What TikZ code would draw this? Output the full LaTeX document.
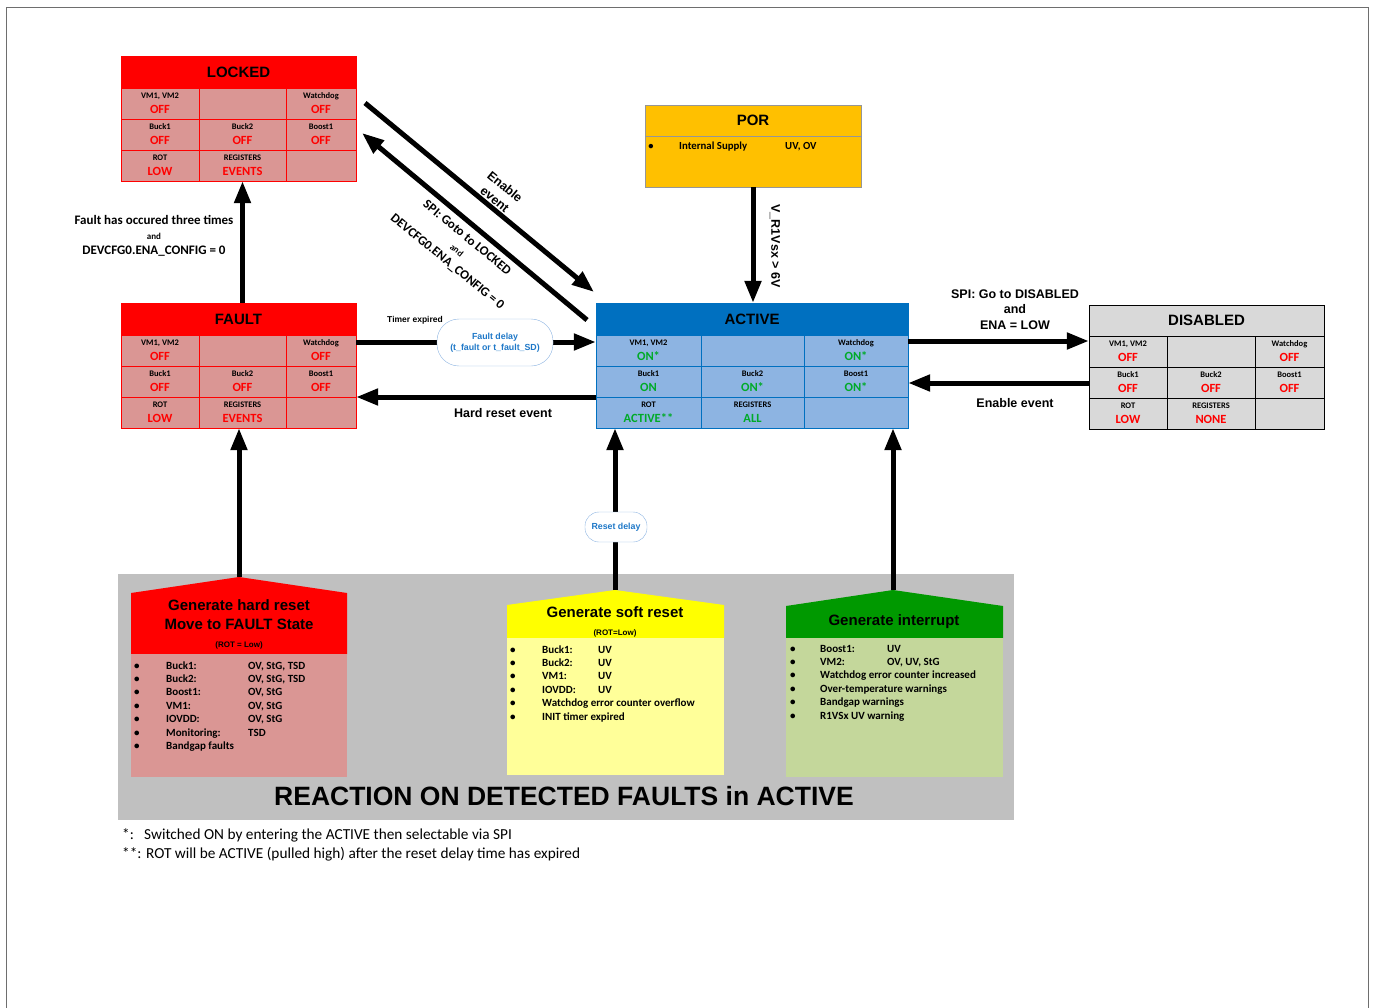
\documentclass[tikz,border=0pt]{standalone}
\usepackage{fontspec}
\setmainfont{Carlito}
\newfontfamily\arialfont{Liberation Sans}
\usetikzlibrary{arrows.meta}

\definecolor{lockred}{RGB}{255,0,0}
\definecolor{lockpink}{RGB}{218,150,148}
\definecolor{actblue}{RGB}{0,112,192}
\definecolor{actcell}{RGB}{141,180,226}
\definecolor{actgreen}{RGB}{0,170,40}
\definecolor{disgrey}{RGB}{217,217,217}
\definecolor{porgold}{RGB}{255,192,0}
\definecolor{porline}{RGB}{150,150,150}
\definecolor{softyellow}{RGB}{255,255,0}
\definecolor{softbody}{RGB}{255,255,153}
\definecolor{intgreen}{RGB}{0,153,0}
\definecolor{intbody}{RGB}{196,215,155}
\definecolor{bggrey}{RGB}{192,192,192}
\definecolor{delayblue}{RGB}{30,120,200}
\definecolor{delayline}{RGB}{141,180,226}
\definecolor{pageframe}{RGB}{110,110,110}

\newcommand{\celllbl}[1]{{\color{black}\fontsize{8.5}{10}\selectfont #1}}
\newcommand{\titlefont}{\arialfont\bfseries\fontsize{15}{19}\selectfont}

\begin{document}
\begin{tikzpicture}[x=1pt,y=-1pt]
   \tikzset{cell/.style 2 args={draw=#1, fill=#2, inner sep=0pt, minimum height=31pt, align=center, font=\fontsize{12.5}{15}\selectfont\bfseries},
      lcell/.style={cell={lockred}{lockpink}, text=lockred, minimum width=#1},
      acell/.style={cell={actblue}{actcell}, text=actgreen, minimum width=#1},
      dcell/.style={cell={black}{disgrey}, text=lockred, minimum width=#1},
      titlebar/.style 2 args={draw=#1, fill=#2, inner sep=0pt, minimum height=32pt, font=\titlefont, align=center},
      bigline/.style={line width=5pt},
      bigarrow/.style={bigline, -{Triangle[length=22pt,width=16pt]}},
      delaybox/.style={draw=delayline, fill=white, inner sep=0pt, text=delayblue, align=center, font=\arialfont\bfseries\fontsize{8.8}{11}\selectfont},
      arialbold/.style={inner sep=0pt, align=center, font=\arialfont\bfseries\fontsize{12.5}{15.5}\selectfont},
      calbold/.style={inner sep=0pt, align=center, font=\bfseries\fontsize{13}{15}\selectfont},
      smalltext/.style={inner sep=0pt, align=center, font=\arialfont\bfseries\fontsize{8}{10}\selectfont},
      listtext/.style={anchor=north west, inner sep=0pt, font=\bfseries\fontsize{11}{13.4}\selectfont},
      foottext/.style={anchor=base west, inner sep=0pt, font=\fontsize{15.3}{18}\selectfont}};

\useasboundingbox (0,0) rectangle (1373,1008);
\draw[pageframe, line width=1pt] (6,1008) -- (6,8) -- (1368,8) -- (1368,1008);

% fault reactions
\fill[bggrey] (118,574) rectangle (1014,820);
\fill[lockred] (131,654) -- (131,593) -- (239,577) -- (347,593) -- (347,654) -- cycle;
\fill[lockpink] (131,654) rectangle (347,777);
\fill[softyellow] (507,638) -- (507,605) -- (615,590) -- (724,605) -- (724,638) -- cycle;
\fill[softbody] (507,638) rectangle (724,775);
\fill[intgreen] (786,638) -- (786,606) -- (893,590) -- (1003,606) -- (1003,638) -- cycle;
\fill[intbody] (786,638) rectangle (1003,777);
\coordinate (hardtop) at (239,577);
\coordinate (softtop) at (615,590);
\coordinate (inttop) at (893,590);

\node[titlebar={none}{none}] (hardtitle) at (239,614.5) {Generate hard reset\\Move to FAULT State};
\node[smalltext] (hardrot) at (239,645) {(ROT = Low)};
\node[listtext] (hardlist) at (134,659.5) {\begin{tabular}{@{}p{32pt}@{}p{82pt}@{}l@{}}
\textbullet & Buck1: & OV, StG, TSD\\
\textbullet & Buck2: & OV, StG, TSD\\
\textbullet & Boost1: & OV, StG\\
\textbullet & VM1: & OV, StG\\
\textbullet & IOVDD: & OV, StG\\
\textbullet & Monitoring: & TSD\\
\textbullet & \multicolumn{2}{@{}l@{}}{Bandgap faults}\\
\end{tabular}};

\node[titlebar={none}{none}] (softtitle) at (615,612) {Generate soft reset};
\node[smalltext] (softrot) at (615,633) {(ROT=Low)};
\node[listtext] (softlist) at (510,643.5) {\begin{tabular}{@{}p{32pt}@{}p{56pt}@{}l@{}}
\textbullet & Buck1: & UV\\
\textbullet & Buck2: & UV\\
\textbullet & VM1: & UV\\
\textbullet & IOVDD: & UV\\
\textbullet & \multicolumn{2}{@{}l@{}}{Watchdog error counter overflow}\\
\textbullet & \multicolumn{2}{@{}l@{}}{INIT timer expired}\\
\end{tabular}};

\node[titlebar={none}{none}] (inttitle) at (894,622) {Generate interrupt};
\node[listtext] (intlist) at (790,642.5) {\begin{tabular}{@{}p{30pt}@{}p{67pt}@{}l@{}}
\textbullet & Boost1: & UV\\
\textbullet & VM2: & OV, UV, StG\\
\textbullet & \multicolumn{2}{@{}l@{}}{Watchdog error counter increased}\\
\textbullet & \multicolumn{2}{@{}l@{}}{Over-temperature warnings}\\
\textbullet & \multicolumn{2}{@{}l@{}}{Bandgap warnings}\\
\textbullet & \multicolumn{2}{@{}l@{}}{R1VSx UV warning}\\
\end{tabular}};

\node[inner sep=0pt, font=\arialfont\bfseries\fontsize{26.5}{30}\selectfont] (reaction) at (564,796) {REACTION ON DETECTED FAULTS in ACTIVE};

% LOCKED
\node[titlebar={lockred}{lockred}, minimum width=235pt] (locked) at (238.5,72) {LOCKED};
\node[lcell=78pt] (L11) at (160,103.5) {\celllbl{VM1, VM2}\\OFF};
\node[lcell=87pt] (L12) at (242.5,103.5) {};
\node[lcell=70pt] (L13) at (321,103.5) {\celllbl{Watchdog}\\OFF};
\node[lcell=78pt] (L21) at (160,134.5) {\celllbl{Buck1}\\OFF};
\node[lcell=87pt] (L22) at (242.5,134.5) {\celllbl{Buck2}\\OFF};
\node[lcell=70pt] (L23) at (321,134.5) {\celllbl{Boost1}\\OFF};
\node[lcell=78pt] (L31) at (160,165.5) {\celllbl{ROT}\\LOW};
\node[lcell=87pt] (L32) at (242.5,165.5) {\celllbl{REGISTERS}\\EVENTS};
\node[lcell=70pt] (L33) at (321,165.5) {};

% FAULT
\node[titlebar={lockred}{lockred}, minimum width=235pt] (fault) at (238.5,319) {FAULT};
\node[lcell=78pt] (F11) at (160,350.5) {\celllbl{VM1, VM2}\\OFF};
\node[lcell=87pt] (F12) at (242.5,350.5) {};
\node[lcell=70pt] (F13) at (321,350.5) {\celllbl{Watchdog}\\OFF};
\node[lcell=78pt] (F21) at (160,381.5) {\celllbl{Buck1}\\OFF};
\node[lcell=87pt] (F22) at (242.5,381.5) {\celllbl{Buck2}\\OFF};
\node[lcell=70pt] (F23) at (321,381.5) {\celllbl{Boost1}\\OFF};
\node[lcell=78pt] (F31) at (160,412.5) {\celllbl{ROT}\\LOW};
\node[lcell=87pt] (F32) at (242.5,412.5) {\celllbl{REGISTERS}\\EVENTS};
\node[lcell=70pt] (F33) at (321,412.5) {};

% ACTIVE
\node[titlebar={actblue}{actblue}, minimum width=312pt] (active) at (752,319) {ACTIVE};
\node[acell=105pt] (A11) at (648.5,350.5) {\celllbl{VM1, VM2}\\ON*};
\node[acell=103pt] (A12) at (752.5,350.5) {};
\node[acell=104pt] (A13) at (856,350.5) {\celllbl{Watchdog}\\ON*};
\node[acell=105pt] (A21) at (648.5,381.5) {\celllbl{Buck1}\\ON};
\node[acell=103pt] (A22) at (752.5,381.5) {\celllbl{Buck2}\\ON*};
\node[acell=104pt] (A23) at (856,381.5) {\celllbl{Boost1}\\ON*};
\node[acell=105pt] (A31) at (648.5,412.5) {\celllbl{ROT}\\ACTIVE**};
\node[acell=103pt] (A32) at (752.5,412.5) {\celllbl{REGISTERS}\\ALL};
\node[acell=104pt] (A33) at (856,412.5) {};

% DISABLED
\node[titlebar={black}{disgrey}, minimum width=235pt, minimum height=31pt] (disabled) at (1206.5,320.5) {DISABLED};
\node[dcell=78pt] (D11) at (1128,351.5) {\celllbl{VM1, VM2}\\OFF};
\node[dcell=88pt] (D12) at (1211,351.5) {};
\node[dcell=69pt] (D13) at (1289.5,351.5) {\celllbl{Watchdog}\\OFF};
\node[dcell=78pt] (D21) at (1128,382.5) {\celllbl{Buck1}\\OFF};
\node[dcell=88pt] (D22) at (1211,382.5) {\celllbl{Buck2}\\OFF};
\node[dcell=69pt] (D23) at (1289.5,382.5) {\celllbl{Boost1}\\OFF};
\node[dcell=78pt] (D31) at (1128,413.5) {\celllbl{ROT}\\LOW};
\node[dcell=88pt] (D32) at (1211,413.5) {\celllbl{REGISTERS}\\NONE};
\node[dcell=69pt] (D33) at (1289.5,413.5) {};

% POR
\node[titlebar={porline}{porgold}, minimum width=216pt, minimum height=31pt] (por) at (753,120.5) {POR};
\node[draw=porline, fill=porgold, minimum width=216pt, minimum height=51pt, inner sep=0pt] (porbody) at (753,161.5) {};
\node[calbold, font=\bfseries\fontsize{10.5}{12}\selectfont] (porbullet) at (651,147) {\textbullet};
\node[calbold, font=\bfseries\fontsize{10.8}{12}\selectfont, anchor=west] (porsupply) at (679,147) {Internal Supply};
\node[calbold, font=\bfseries\fontsize{10.8}{12}\selectfont, anchor=west] (porlimit) at (785,147) {UV, OV};

% levels of the side arrows
\coordinate (timerlvl) at (0,342);
\coordinate (hardlvl) at (0,397);
\coordinate (spilvl) at (0,341);
\coordinate (enalvl) at (0,383);
\coordinate (enastart) at (365,103);
\coordinate (enaend) at (594,292);
\coordinate (spistart) at (587,320);
\coordinate (spiend) at (362,133);

% transitions
\draw[bigarrow] (F12 |- fault.north) -- (L32.south);
\draw[bigarrow] (hardtop) -- (hardtop |- F32.south);
\draw[bigarrow] (porbody.south) -- (porbody.south |- active.north);
\draw[bigarrow] (inttop) -- (inttop |- A33.south);
\draw[bigarrow] (softtop) -- (softtop |- A31.south);
\draw[bigarrow] (F13.east |- timerlvl) -- (A11.west |- timerlvl);
\draw[bigarrow] (A21.west |- hardlvl) -- (F23.east |- hardlvl);
\draw[bigarrow] (A13.east |- spilvl) -- (D11.west |- spilvl);
\draw[bigarrow] (D21.west |- enalvl) -- (A23.east |- enalvl);
\draw[bigarrow] (enastart) -- (enaend);
\draw[bigarrow] (spistart) -- (spiend);

\node[delaybox, minimum width=116pt, minimum height=47pt, rounded corners=22pt] (faultdelay) at (495,342.5) {Fault delay\\(t\_fault or t\_fault\_SD)};
\node[delaybox, minimum width=62pt, minimum height=30pt, rounded corners=14pt] (resetdelay) at (616,527) {Reset delay};

% labels
\node[calbold] (lockcond) at (154,236) {Fault has occured three times\\{\fontsize{9}{10}\selectfont and}\\DEVCFG0.ENA\_CONFIG = 0};
\node[smalltext, font=\arialfont\bfseries\fontsize{8.5}{10}\selectfont] (timerlbl) at (415,320) {Timer expired};
\node[arialbold] (hardlbl) at (503,413) {Hard reset event};
\node[arialbold] (spidislbl) at (1015,309.5) {SPI: Go to DISABLED\\and\\ENA = LOW};
\node[arialbold] (enadislbl) at (1015,403) {Enable event};
\node[arialbold, rotate=-90] (porlbl) at (775,246) {V\_R1Vsx > 6V};
\node[arialbold, rotate=-39.5, font=\arialfont\bfseries\fontsize{12.5}{16}\selectfont] (enalbl) at (500,193) {Enable\\event};
\node[calbold, rotate=-39.5, font=\bfseries\fontsize{13}{15.5}\selectfont] (spilbl) at (457,250) {SPI: Goto to LOCKED\\{\fontsize{9}{10}\selectfont and}\\DEVCFG0.ENA\_CONFIG = 0};

% notes
\node[foottext] (note1) at (122,839) {\makebox[22pt][l]{*:}Switched ON by entering the ACTIVE then selectable via SPI};
\node[foottext] (note2) at (122,858) {**: ROT will be ACTIVE (pulled high) after the reset delay time has expired};

\end{tikzpicture}
\end{document}
